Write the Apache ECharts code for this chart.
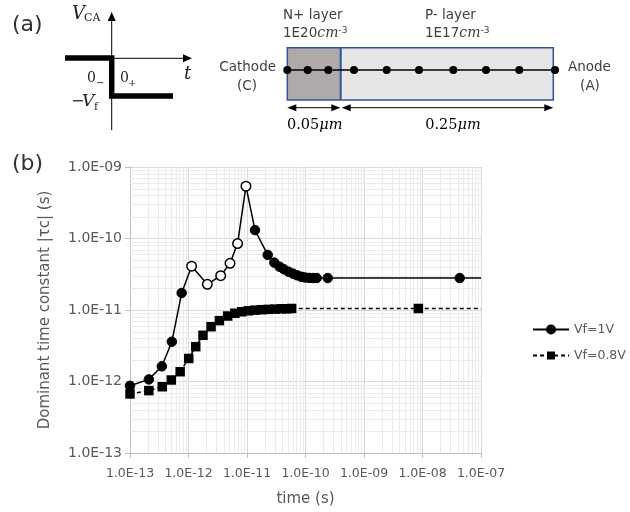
<!DOCTYPE html>
<html>
<head>
<meta charset="utf-8">
<script src="https://cdn.jsdelivr.net/npm/echarts@6/dist/echarts.min.js"></script>
<style>html,body{margin:0;padding:0;background:#fff;}#c{width:630px;height:512px;}</style>
</head>
<body>
<div id="c"></div>
<script>
// ---- data ----
const seriesNames = ['Vf=1V', 'Vf=0.8V'];
const times1 = [1e-13, 2.1e-13, 3.5e-13, 5.2e-13, 7.65e-13, 1.13e-12, 2.1e-12, 3.55e-12, 5.13e-12, 6.9e-12, 9.6e-12, 1.37e-11, 2.26e-11, 2.93e-11, 3.6e-11, 4.28e-11, 5.12e-11, 6.1e-11, 7.16e-11, 8.4e-11, 9.8e-11, 1.15e-10, 1.34e-10, 1.55e-10, 2.4e-10, 4.33e-8, 1e-7];
const tau1   = [8.7e-13, 1.07e-12, 1.63e-12, 3.6e-12, 1.73e-11, 4.1e-11, 2.29e-11, 3.02e-11, 4.5e-11, 8.5e-11, 5.4e-10, 1.31e-10, 5.9e-11, 4.6e-11, 4.03e-11, 3.71e-11, 3.43e-11, 3.22e-11, 3.06e-11, 2.92e-11, 2.85e-11, 2.81e-11, 2.8e-11, 2.8e-11, 2.8e-11, 2.8e-11, 2.8e-11];
const hollow1 = [5, 6, 7, 8, 9, 10];      // open-circle points of Vf=1V
const noMarker1 = [26];                  // line continues to edge without marker
const times2 = [1e-13, 2.1e-13, 3.56e-13, 5.08e-13, 7.2e-13, 1.01e-12, 1.33e-12, 1.77e-12, 2.43e-12, 3.37e-12, 4.68e-12, 6.2e-12, 8.1e-12, 1.05e-11, 1.37e-11, 1.78e-11, 2.31e-11, 3.01e-11, 3.92e-11, 4.78e-11, 5.8e-11, 8.5e-9, 1e-7];
const tau2   = [6.7e-13, 7.45e-13, 8.45e-13, 1.05e-12, 1.37e-12, 2.1e-12, 3.07e-12, 4.43e-12, 5.84e-12, 7.1e-12, 8.24e-12, 9.0e-12, 9.45e-12, 9.75e-12, 9.95e-12, 1.01e-11, 1.02e-11, 1.03e-11, 1.04e-11, 1.04e-11, 1.05e-11, 1.05e-11, 1.05e-11];
const noMarker2 = [22];
const xMin = 1e-13, xMax = 1e-7;
const yMin = 1e-13, yMax = 1e-9;
const xTitle = 'time (s)';
const yTitle = 'Dominant time constant |τc| (s)';

// ---- helpers ----
function sci(v) {
  const e = Math.round(Math.log10(v));
  return '1.0E' + (e < 0 ? '-' : '+') + String(Math.abs(e)).padStart(2, '0');
}
function minorValues(lo, hi) {
  const out = [];
  for (let d = Math.round(Math.log10(lo)); d < Math.round(Math.log10(hi)); d++) {
    for (let k = 2; k <= 9; k++) out.push(k * Math.pow(10, d));
  }
  return out;
}
const FONT = 'DejaVu Sans';
const SERIF = 'DejaVu Serif';
const TXT = '#595959';
const MINOR = '#ebebeb';

const data1 = times1.map((t, i) => {
  const item = { value: [t, tau1[i]] };
  if (hollow1.includes(i)) item.itemStyle = { color: '#fff', borderColor: '#000', borderWidth: 1.5 };
  if (noMarker1.includes(i)) { item.symbolSize = 0; }
  return item;
});
const data2 = times2.map((t, i) => {
  const item = { value: [t, tau2[i]] };
  if (noMarker2.includes(i)) { item.symbolSize = 0; }
  return item;
});

// ---- diagram (a) graphics ----
function txt(x, y, text, font, opts) {
  return Object.assign({ type: 'text', x: x, y: y, silent: true,
    style: Object.assign({ text: text, font: font, fill: '#222', align: 'left', verticalAlign: 'middle' }, opts || {}) });
}
function arrowHead(tipX, tipY, dir, len, half) {
  let pts;
  if (dir === 'up') pts = [[tipX, tipY], [tipX - half, tipY + len], [tipX + half, tipY + len]];
  else if (dir === 'right') pts = [[tipX, tipY], [tipX - len, tipY - half], [tipX - len, tipY + half]];
  else pts = [[tipX, tipY], [tipX + len, tipY - half], [tipX + len, tipY + half]];
  return { type: 'polygon', silent: true, shape: { points: pts }, style: { fill: '#000' } };
}
const dotsX = [287.3, 307.7, 328.3, 354, 386.7, 419, 453.3, 486, 519.3, 555];
const graphics = [
  txt(12, 25, '(a)', '22px ' + FONT, { fill: '#333' }),
  txt(12, 164, '(b)', '22px ' + FONT, { fill: '#333' }),
  // step waveform
  { type: 'line', silent: true, shape: { x1: 111.7, y1: 20, x2: 111.7, y2: 130 }, style: { stroke: '#000', lineWidth: 1 } },
  arrowHead(111.7, 12, 'up', 9, 4),
  { type: 'line', silent: true, shape: { x1: 112, y1: 58.3, x2: 185, y2: 58.3 }, style: { stroke: '#000', lineWidth: 1 } },
  arrowHead(192, 58.3, 'right', 9, 4),
  { type: 'polyline', silent: true, shape: { points: [[65, 58], [111.7, 58], [111.7, 96], [173, 96]] },
    style: { stroke: '#000', lineWidth: 5.5, fill: null, lineJoin: 'miter', lineCap: 'butt' } },
  txt(72, 14, 'V', 'italic 18px ' + SERIF),
  txt(84, 18, 'CA', '11px ' + SERIF),
  txt(87, 78, '0', '14px ' + SERIF),
  txt(96, 83, '−', '10px ' + SERIF),
  txt(120, 78, '0', '14px ' + SERIF),
  txt(128, 83, '+', '10px ' + SERIF),
  txt(184, 74, 't', 'italic 18px ' + SERIF),
  txt(71, 102, '−', '16px ' + SERIF),
  txt(82, 102, 'V', 'italic 17px ' + SERIF),
  txt(94, 107, 'f', '11px ' + SERIF),
  // device
  { type: 'rect', silent: true, shape: { x: 287.3, y: 47.7, width: 266, height: 52.3 }, style: { fill: '#e7e6e6' } },
  { type: 'rect', silent: true, shape: { x: 287.3, y: 47.7, width: 53.4, height: 52.3 }, style: { fill: '#aeaaaa' } },
  { type: 'line', silent: true, shape: { x1: 340.7, y1: 47.7, x2: 340.7, y2: 100 }, style: { stroke: '#2f5597', lineWidth: 2 } },
  { type: 'rect', silent: true, shape: { x: 287.3, y: 47.7, width: 266, height: 52.3 }, style: { fill: null, stroke: '#2f5597', lineWidth: 1.5 } },
  { type: 'line', silent: true, shape: { x1: 287.3, y1: 70, x2: 555, y2: 70 }, style: { stroke: '#000', lineWidth: 1.5 } }
].concat(dotsX.map(x => ({ type: 'circle', silent: true, shape: { cx: x, cy: 70, r: 4 }, style: { fill: '#000' } })))
.concat([
  txt(283, 15, 'N+ layer', '13.5px ' + FONT, { fill: '#404040' }),
  { type: 'text', x: 283, y: 33, silent: true, style: { text: '{a|1E20}{b|cm}{c|-3}', verticalAlign: 'middle',
    rich: { a: { font: '13.5px ' + FONT, fill: '#404040' }, b: { font: 'italic 14px ' + SERIF, fill: '#404040' }, c: { font: '9px ' + FONT, fill: '#404040', verticalAlign: 'top' } } } },
  txt(425, 15, 'P- layer', '13.5px ' + FONT, { fill: '#404040' }),
  { type: 'text', x: 425, y: 33, silent: true, style: { text: '{a|1E17}{b|cm}{c|-3}', verticalAlign: 'middle',
    rich: { a: { font: '13.5px ' + FONT, fill: '#404040' }, b: { font: 'italic 14px ' + SERIF, fill: '#404040' }, c: { font: '9px ' + FONT, fill: '#404040', verticalAlign: 'top' } } } },
  txt(276, 67, 'Cathode', '13.5px ' + FONT, { fill: '#404040', align: 'right' }),
  txt(247, 86, '(C)', '13.5px ' + FONT, { fill: '#404040', align: 'center' }),
  txt(568, 67, 'Anode', '13.5px ' + FONT, { fill: '#404040' }),
  txt(590, 86, '(A)', '13.5px ' + FONT, { fill: '#404040', align: 'center' }),
  // dimension arrows
  { type: 'line', silent: true, shape: { x1: 292, y1: 107.7, x2: 336, y2: 107.7 }, style: { stroke: '#000', lineWidth: 1 } },
  arrowHead(287.3, 107.7, 'left', 9, 3.5),
  arrowHead(340.3, 107.7, 'right', 9, 3.5),
  { type: 'line', silent: true, shape: { x1: 346, y1: 107.7, x2: 548, y2: 107.7 }, style: { stroke: '#000', lineWidth: 1 } },
  arrowHead(341.7, 107.7, 'left', 9, 3.5),
  arrowHead(553.3, 107.7, 'right', 9, 3.5),
  { type: 'text', x: 287, y: 125, silent: true, style: { text: '{a|0.05}{b|μm}', verticalAlign: 'middle',
    rich: { a: { font: '14.5px ' + SERIF, fill: '#000' }, b: { font: 'italic 14.5px ' + SERIF, fill: '#000' } } } },
  { type: 'text', x: 453, y: 125, silent: true, style: { text: '{a|0.25}{b|μm}', align: 'center', verticalAlign: 'middle',
    rich: { a: { font: '14.5px ' + SERIF, fill: '#000' }, b: { font: 'italic 14.5px ' + SERIF, fill: '#000' } } } }
]);

function vGrid(params, api) {
  const p1 = api.coord([api.value(0), yMin]);
  const p2 = api.coord([api.value(0), yMax]);
  const x = Math.round(p1[0]) + 0.5;
  return { type: 'line', silent: true, shape: { x1: x, y1: p1[1], x2: x, y2: p2[1] }, style: { stroke: MINOR, lineWidth: 1 } };
}
function hGrid(params, api) {
  const p1 = api.coord([xMin, api.value(1)]);
  const p2 = api.coord([xMax, api.value(1)]);
  const y = Math.round(p1[1]) + 0.5;
  return { type: 'line', silent: true, shape: { x1: p1[0], y1: y, x2: p2[0], y2: y }, style: { stroke: MINOR, lineWidth: 1 } };
}

const chart = echarts.init(document.getElementById('c'), null, { renderer: 'canvas' });
chart.setOption({
  animation: false,
  backgroundColor: '#fff',
  textStyle: { fontFamily: FONT },
  grid: { left: 130, top: 167, width: 351, height: 286, containLabel: false },
  legend: {
    orient: 'vertical', left: 527, top: 318, itemWidth: 36, itemHeight: 10, itemGap: 13,
    data: seriesNames,
    textStyle: { fontSize: 12.5, color: TXT, fontFamily: FONT }
  },
  xAxis: {
    type: 'log', logBase: 10, min: xMin, max: xMax,
    name: xTitle, nameLocation: 'middle', nameGap: 39,
    nameTextStyle: { fontSize: 15, color: TXT },
    axisLine: { show: true, lineStyle: { color: '#bfbfbf' } },
    axisTick: { show: true, length: 5, lineStyle: { color: '#bfbfbf' } },
    axisLabel: { formatter: sci, fontSize: 12.5, color: TXT, margin: 14 },
    splitLine: { show: true, lineStyle: { color: '#d9d9d9' } }
  },
  yAxis: {
    type: 'log', logBase: 10, min: yMin, max: yMax,
    name: yTitle, nameLocation: 'middle', nameGap: 77, nameRotate: 90,
    nameTextStyle: { fontSize: 15, color: TXT },
    axisLine: { show: true, lineStyle: { color: '#bfbfbf' } },
    axisTick: { show: true, length: 5, lineStyle: { color: '#bfbfbf' } },
    axisLabel: { formatter: sci, fontSize: 14, color: TXT, margin: 8 },
    splitLine: { show: true, lineStyle: { color: '#d9d9d9' } }
  },
  graphic: graphics,
  series: [
    {
      type: 'custom', name: '__vgrid', renderItem: vGrid, silent: true, z: 1, clip: false,
      data: minorValues(xMin, xMax).map(v => [v, yMin])
    },
    {
      type: 'custom', name: '__hgrid', renderItem: hGrid, silent: true, z: 1, clip: false,
      data: minorValues(yMin, yMax).map(v => [xMin, v])
    },
    {
      type: 'line', name: seriesNames[1], data: data2, symbol: 'rect', symbolSize: 9.5,
      lineStyle: { color: '#000', width: 1.5, type: [4, 3] },
      itemStyle: { color: '#000' }, z: 3
    },
    {
      type: 'line', name: seriesNames[0], data: data1, symbol: 'circle', symbolSize: 9.5,
      lineStyle: { color: '#000', width: 1.5, type: 'solid' },
      itemStyle: { color: '#000', borderColor: '#000', borderWidth: 1 }, z: 4
    }
  ]
});
</script>
</body>
</html>
